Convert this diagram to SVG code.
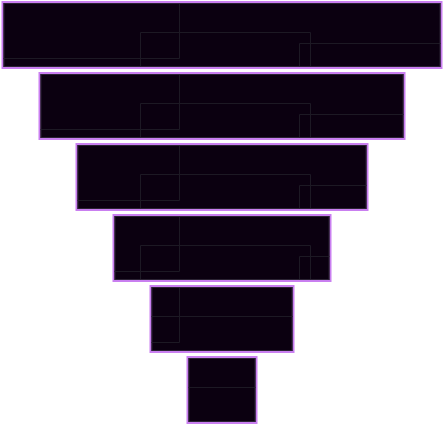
<svg xmlns="http://www.w3.org/2000/svg" width="444" height="426" viewBox="0 0 444 426">
  <style>
    .bar { fill: #0b0010; stroke: #c97ff0; stroke-width: 2; }
    .edge { fill: none; stroke: #2a2232; stroke-width: 1; }
    .grid { fill: none; stroke: #1d1924; stroke-width: 1; }
  </style>
  <defs>
    <g id="pattern">
      <path d="M179.5 0 V57.5 M0 57.5 H179.5 M140.5 70 V31.5 H310.5 V70 M299.5 70 V42.5 H444"/>
    </g>
    <clipPath id="c0"><rect x="3.5" y="3" width="437" height="64"/></clipPath>
    <clipPath id="c1"><rect x="40.5" y="74" width="363" height="64"/></clipPath>
    <clipPath id="c2"><rect x="77.5" y="145" width="289" height="64"/></clipPath>
    <clipPath id="c3"><rect x="114.5" y="216" width="215" height="64"/></clipPath>
    <clipPath id="c4"><rect x="151.5" y="287" width="141" height="64"/></clipPath>
    <clipPath id="c5"><rect x="188.5" y="358" width="67" height="64"/></clipPath>
  </defs>

  <g id="level1">
    <rect class="bar" x="2.5" y="2" width="439" height="66"/>
    <g class="grid" clip-path="url(#c0)"><use href="#pattern" transform="translate(0,1)"/></g>
    <rect class="edge" x="4" y="3.5" width="436" height="63"/>
  </g>
  <g id="level2">
    <rect class="bar" x="39.5" y="73" width="365" height="66"/>
    <g class="grid" clip-path="url(#c1)"><use href="#pattern" transform="translate(0,72)"/></g>
    <rect class="edge" x="41" y="74.5" width="362" height="63"/>
  </g>
  <g id="level3">
    <rect class="bar" x="76.5" y="144" width="291" height="66"/>
    <g class="grid" clip-path="url(#c2)"><use href="#pattern" transform="translate(0,143)"/></g>
    <rect class="edge" x="78" y="145.5" width="288" height="63"/>
  </g>
  <g id="level4">
    <rect class="bar" x="113.5" y="215" width="217" height="66"/>
    <g class="grid" clip-path="url(#c3)"><use href="#pattern" transform="translate(0,214)"/></g>
    <rect class="edge" x="115" y="216.5" width="214" height="63"/>
  </g>
  <g id="level5">
    <rect class="bar" x="150.5" y="286" width="143" height="66"/>
    <g class="grid" clip-path="url(#c4)"><use href="#pattern" transform="translate(0,285)"/></g>
    <rect class="edge" x="152" y="287.5" width="140" height="63"/>
  </g>
  <g id="level6">
    <rect class="bar" x="187.5" y="357" width="69" height="66"/>
    <g class="grid" clip-path="url(#c5)"><use href="#pattern" transform="translate(0,356)"/></g>
    <rect class="edge" x="189" y="358.5" width="66" height="63"/>
  </g>
  <g id="connectors"/>
</svg>
